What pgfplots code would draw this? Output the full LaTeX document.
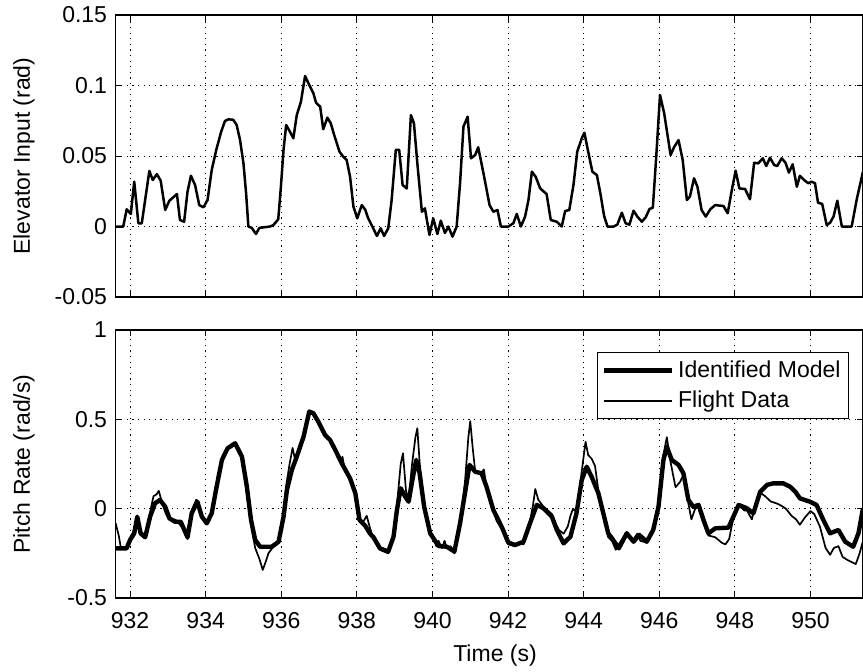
\documentclass[border=0pt]{standalone}
\usepackage{pgfplots}
\pgfplotsset{compat=1.18}
\usepackage{pgfplotstable}
\usepackage{fontspec}
\setmainfont{Liberation Sans}

\pgfplotstableread{
t v
931.62 0
931.82 0
931.91 0.0122
932.02 0.0089
932.11 0.0318
932.22 0.0023
932.31 0.0023
932.51 0.0394
932.60 0.0330
932.71 0.0372
932.81 0.0325
932.93 0.0117
933.04 0.0183
933.24 0.0230
933.32 0.0046
933.43 0.0034
933.52 0.0247
933.61 0.0360
933.72 0.0294
933.83 0.0152
933.94 0.0136
934.05 0.0188
934.16 0.0400
934.28 0.0543
934.41 0.0672
934.51 0.0748
934.60 0.0760
934.73 0.0757
934.82 0.0720
934.91 0.0613
935.00 0.0448
935.07 0.0235
935.13 0
935.22 -0.0010
935.33 -0.0053
935.42 -0.0010
935.70 0
935.79 0.0010
935.92 0.0051
935.99 0.0280
936.06 0.0543
936.13 0.0720
936.23 0.0672
936.32 0.0626
936.41 0.0790
936.52 0.0885
936.63 0.1067
936.74 0.1004
936.85 0.0945
936.92 0.0878
937.03 0.0850
937.11 0.0690
937.22 0.0772
937.31 0.0732
937.40 0.0649
937.54 0.0531
937.64 0.0495
937.73 0.0472
937.82 0.0353
937.91 0.0140
938.01 0.0058
938.13 0.0152
938.22 0.0120
938.30 0.0058
938.42 -0.0006
938.53 -0.0067
938.63 -0.0013
938.72 -0.0067
938.83 -0.0013
938.92 0.0188
939.03 0.0543
939.12 0.0543
939.21 0.0294
939.32 0.0270
939.43 0.0790
939.51 0.0732
939.60 0.0448
939.72 0.0105
939.80 0.0129
939.92 -0.0060
940.02 0.0058
940.13 -0.0053
940.22 0.0041
940.33 -0.0046
940.42 0
940.53 -0.0072
940.64 0
940.73 0.0307
940.82 0.0708
940.93 0.0779
941.02 0.0484
941.13 0.0507
941.21 0.0562
941.35 0.0377
941.51 0.0152
941.61 0.0105
941.72 0.0117
941.81 0
942.01 0
942.14 0.0023
942.23 0.0089
942.34 0
942.45 0.0070
942.54 0.0188
942.63 0.0389
942.73 0.0353
942.85 0.0270
943.02 0.0230
943.13 0.0046
943.29 0.0034
943.42 0
943.51 0.0110
943.62 0.0117
943.73 0.0294
943.83 0.0531
943.95 0.0626
944.02 0.0665
944.12 0.0531
944.23 0.0389
944.35 0.0365
944.45 0.0223
944.54 0.0076
944.63 0
944.79 0
944.89 0.0013
945.01 0.0098
945.11 0.0023
945.21 0.0013
945.32 0.0112
945.42 0.0070
945.54 0.0034
945.64 0.0065
945.74 0.0124
945.83 0.0133
945.92 0.0495
946.02 0.0933
946.13 0.0803
946.30 0.0507
946.39 0.0562
946.51 0.0613
946.62 0.0472
946.73 0.0188
946.81 0.0211
946.92 0.0342
947.01 0.0282
947.12 0.0117
947.23 0.0070
947.35 0.0122
947.48 0.0152
947.70 0.0145
947.81 0.0094
947.92 0.0259
948.02 0.0396
948.12 0.0270
948.27 0.0266
948.40 0.0193
948.51 0.0452
948.62 0.0448
948.74 0.0484
948.83 0.0429
948.93 0.0488
949.04 0.0436
949.12 0.0429
949.24 0.0484
949.34 0.0452
949.43 0.0382
949.53 0.0441
949.64 0.0282
949.72 0.0360
949.83 0.0330
949.94 0.0307
950.03 0.0318
950.12 0.0307
950.20 0.0169
950.31 0.0160
950.43 0.0010
950.52 0.0027
950.61 0.0070
950.71 0.0183
950.83 0
951.09 0
951.23 0.0200
951.39 0.0389
}\elev

\pgfplotstableread{
t v
931.62 -0.222
931.91 -0.222
932.00 -0.175
932.11 -0.138
932.19 -0.045
932.28 -0.138
932.40 -0.160
932.53 -0.045
932.66 0.030
932.79 0.049
932.93 0.011
933.04 -0.054
933.19 -0.073
933.34 -0.073
933.52 -0.160
933.63 -0.026
933.78 0.039
933.90 -0.045
934.03 -0.082
934.16 -0.026
934.29 0.123
934.43 0.273
934.58 0.338
934.78 0.366
934.96 0.291
935.09 0.123
935.20 -0.063
935.31 -0.175
935.44 -0.213
935.75 -0.213
935.93 -0.185
936.06 -0.045
936.15 0.105
936.28 0.217
936.41 0.291
936.59 0.403
936.74 0.543
936.85 0.534
936.98 0.487
937.16 0.412
937.29 0.385
937.43 0.328
937.60 0.254
937.82 0.170
937.96 0.086
938.07 -0.063
938.22 -0.095
938.35 -0.140
938.44 -0.160
938.61 -0.222
938.83 -0.240
938.97 -0.157
939.06 -0.007
939.16 0.114
939.28 0.067
939.37 0.039
939.46 0.151
939.57 0.273
939.66 0.198
939.78 0.011
939.94 -0.138
940.16 -0.209
940.38 -0.213
940.58 -0.240
940.73 -0.082
940.86 0.086
940.98 0.245
941.13 0.207
941.30 0.198
941.43 0.123
941.61 -0.007
941.83 -0.101
942.01 -0.190
942.19 -0.203
942.41 -0.185
942.58 -0.082
942.76 0.021
942.94 0.002
943.16 -0.045
943.29 -0.119
943.47 -0.194
943.65 -0.157
943.81 -0.026
943.95 0.161
944.08 0.235
944.21 0.179
944.39 0.086
944.52 -0.026
944.65 -0.138
944.75 -0.166
944.93 -0.222
945.14 -0.138
945.32 -0.185
945.47 -0.147
945.67 -0.185
945.84 -0.119
945.98 0.011
946.11 0.273
946.20 0.347
946.33 0.273
946.51 0.245
946.64 0.198
946.77 0.049
946.90 0.011
947.04 0.021
947.17 -0.063
947.30 -0.138
947.48 -0.110
947.83 -0.106
947.96 -0.045
948.10 0.021
948.32 0.002
948.49 -0.026
948.67 0.095
948.85 0.133
949.02 0.142
949.28 0.142
949.46 0.123
949.60 0.095
949.72 0.058
949.99 0.039
950.16 0.021
950.34 -0.063
950.52 -0.138
950.74 -0.119
950.92 -0.185
951.13 -0.213
951.27 -0.138
951.39 0.002
}\model

\pgfplotstableread{
t v
931.62 -0.082
931.70 -0.150
931.76 -0.222
931.91 -0.215
932.00 -0.165
932.11 -0.120
932.19 -0.040
932.28 -0.130
932.40 -0.150
932.53 -0.020
932.62 0.070
932.70 0.080
932.76 0.100
932.85 0.030
932.95 -0.030
933.04 -0.060
933.12 -0.070
933.19 -0.060
933.28 -0.080
933.40 -0.110
933.52 -0.170
933.63 -0.010
933.75 0.050
933.80 0.040
933.90 -0.040
934.03 -0.080
934.16 -0.020
934.29 0.120
934.43 0.270
934.58 0.340
934.78 0.360
934.96 0.280
935.09 0.110
935.20 -0.090
935.31 -0.220
935.42 -0.280
935.51 -0.343
935.60 -0.290
935.66 -0.250
935.80 -0.210
935.93 -0.180
936.06 -0.040
936.13 0.130
936.22 0.250
936.30 0.340
936.36 0.280
936.45 0.330
936.59 0.410
936.74 0.550
936.85 0.540
936.98 0.490
937.10 0.430
937.16 0.420
937.29 0.390
937.43 0.320
937.55 0.270
937.62 0.290
937.68 0.220
937.82 0.170
937.96 0.080
938.07 -0.060
938.18 -0.070
938.26 -0.040
938.35 -0.110
938.44 -0.170
938.61 -0.230
938.83 -0.250
938.97 -0.150
939.06 0.020
939.16 0.250
939.22 0.310
939.30 0.100
939.37 0.050
939.46 0.250
939.55 0.400
939.60 0.450
939.66 0.260
939.78 0.020
939.94 -0.140
940.05 -0.170
940.10 -0.210
940.16 -0.180
940.25 -0.220
940.32 -0.180
940.38 -0.220
940.48 -0.210
940.58 -0.250
940.73 -0.080
940.86 0.150
940.95 0.400
941.00 0.490
941.06 0.350
941.13 0.210
941.30 0.200
941.36 0.220
941.43 0.120
941.61 -0.010
941.70 -0.070
941.83 -0.110
941.95 -0.180
942.01 -0.200
942.19 -0.210
942.30 -0.190
942.41 -0.200
942.58 -0.070
942.66 0.020
942.72 0.110
942.80 0.050
942.94 0.010
943.05 -0.010
943.16 -0.030
943.25 -0.080
943.35 -0.120
943.47 -0.140
943.58 -0.100
943.65 -0.040
943.72 0.000
943.81 -0.020
943.95 0.210
944.05 0.375
944.12 0.300
944.21 0.280
944.30 0.240
944.39 0.100
944.52 -0.040
944.65 -0.160
944.75 -0.180
944.85 -0.230
944.93 -0.200
945.05 -0.160
945.14 -0.130
945.24 -0.170
945.32 -0.170
945.42 -0.140
945.50 -0.180
945.67 -0.190
945.84 -0.120
945.98 0.020
946.11 0.300
946.20 0.400
946.30 0.260
946.43 0.120
946.55 0.150
946.64 0.190
946.77 0.030
946.85 -0.060
946.95 0.000
947.04 0.010
947.17 -0.080
947.30 -0.150
947.48 -0.160
947.65 -0.190
947.75 -0.200
947.85 -0.170
947.96 -0.050
948.10 0.020
948.25 -0.010
948.32 -0.010
948.45 -0.060
948.55 0.030
948.67 0.090
948.80 0.070
948.95 0.040
949.10 0.030
949.20 0.020
949.35 0.000
949.50 -0.040
949.62 -0.060
949.72 -0.090
949.85 -0.050
950.00 -0.013
950.10 -0.030
950.25 -0.100
950.40 -0.220
950.52 -0.258
950.62 -0.220
950.74 -0.210
950.85 -0.270
950.97 -0.286
951.10 -0.300
951.20 -0.310
951.30 -0.250
951.39 -0.180
}\flight

\pgfplotsset{
  every axis/.append style={
    font=\fontsize{11.5}{13.8}\selectfont,
    scale only axis,
    width=373.65pt,
    xmin=931.62, xmax=951.39,
    xtick={932,934,936,938,940,942,944,946,948,950},
    tick align=inside,
    major tick length=3pt,
    tick style={black, line width=0.5pt},
    axis line style={black, line width=0.6pt},
    grid=major,
    major grid style={black, line width=0.5pt, dash pattern=on 0.6pt off 2.2pt},
    /pgf/number format/assume math mode=true,
    ylabel style={at={(axis description cs:-0.1227,0.5)}, anchor=center, rotate=0},
    yticklabel style={xshift=-0.8pt},
  },
}

\begin{document}
\begin{tikzpicture}
\path[use as bounding box] (0pt,0pt) rectangle (431.5pt,-335.5pt);

\begin{axis}[
  at={(57.85pt,-148.5pt)}, anchor=south west,
  height=141pt,
  ymin=-0.05, ymax=0.15,
  ytick={-0.05,0,0.05,0.1,0.15},
  yticklabels={-0.05,0,0.05,0.1,0.15},
  xticklabels={},
  ylabel={Elevator Input (rad)},
]
\addplot[black, line width=1.25pt, line join=round] table[x=t,y=v] {\elev};
\end{axis}

\begin{axis}[
  at={(57.85pt,-299pt)}, anchor=south west,
  height=134pt,
  ymin=-0.5, ymax=1,
  ytick={-0.5,0,0.5,1},
  yticklabels={-0.5,0,0.5,1},
  xticklabels={932,934,936,938,940,942,944,946,948,950},
  xticklabel style={yshift=-3.5pt},
  ylabel={Pitch Rate (rad/s)},
  xlabel={Time (s)},
  xlabel style={at={(axis description cs:0.5076,-0.214)}, anchor=center},
  legend cell align=left,
  legend style={at={(axis description cs:0.9813,0.918)}, anchor=north east,
    draw=black, line width=0.5pt, fill=white, inner sep=2pt,
    font=\fontsize{11.5}{13.8}\selectfont,
    row sep=1.5pt},
  legend image code/.code={\draw[#1] (0pt,0pt) -- (34pt,0pt);},
]
\addplot[black, line width=2.2pt, line join=round] table[x=t,y=v] {\model};
\addlegendentry{Identified Model}
\addplot[black, line width=0.85pt, line join=round] table[x=t,y=v] {\flight};
\addlegendentry{Flight Data}
\end{axis}
\end{tikzpicture}
\end{document}
